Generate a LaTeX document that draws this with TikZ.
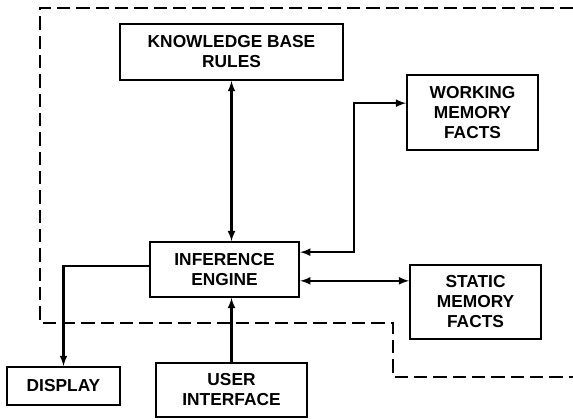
\documentclass[tikz,border=0pt]{standalone}
\usepackage{fontspec}
\setmainfont{Liberation Sans}
\usepackage{tikz}
\usetikzlibrary{arrows, calc}
\usetikzlibrary{positioning}

\tikzset{
    block/.style={draw, line width=1.6pt, align=center, inner sep=2pt,
        font=\fontsize{13}{15}\selectfont\bfseries},
    link/.style={line width=1.6pt, >=latex},
    boundary/.style={line width=1.4pt, dash pattern=on 10pt off 4.5pt}
}

\begin{document}
\begin{tikzpicture}[x=0.75pt, y=0.75pt]
    \useasboundingbox (0,0) rectangle (573,419);
    % system boundary
    \draw[boundary] (573,411) -- (40,411) -- (40,96) -- (393,96) -- (393,42) -- (573,42);

    \node[block, minimum width=167pt, minimum height=42pt] at (231.5,367) (KB) {KNOWLEDGE BASE\\RULES};
    \node[block, minimum width=98pt, minimum height=56pt] at (472.5,306.5) (WM) {WORKING\\MEMORY\\FACTS};
    \node[block, minimum width=112pt, minimum height=41pt] at (224.5,149.5) (IE) {INFERENCE\\ENGINE};
    \node[block, minimum width=98pt, minimum height=56pt] at (475.5,117) (SM) {STATIC\\MEMORY\\FACTS};
    \node[block, minimum width=85pt, minimum height=28.5pt] at (63.5,33) (D) {DISPLAY};
    \node[block, minimum width=113pt, minimum height=40.5pt] at (231.5,29) (UI) {USER\\INTERFACE};

    \draw[link, <->] (KB.south) -- (KB.south |- IE.north);
    \draw[link, <->] ([yshift=13pt]IE.east) -- ++(54,0) |- ([yshift=7pt]WM.west);
    \draw[link, <->] ([yshift=-8.5pt]IE.east) -- ([yshift=-8.5pt]IE.east -| SM.west);
    \draw[link, ->] ([yshift=2.5pt]IE.west) -| (D.north);
    \draw[link, ->] (UI.north) -- (UI.north |- IE.south);
    \end{tikzpicture}
\end{document}
